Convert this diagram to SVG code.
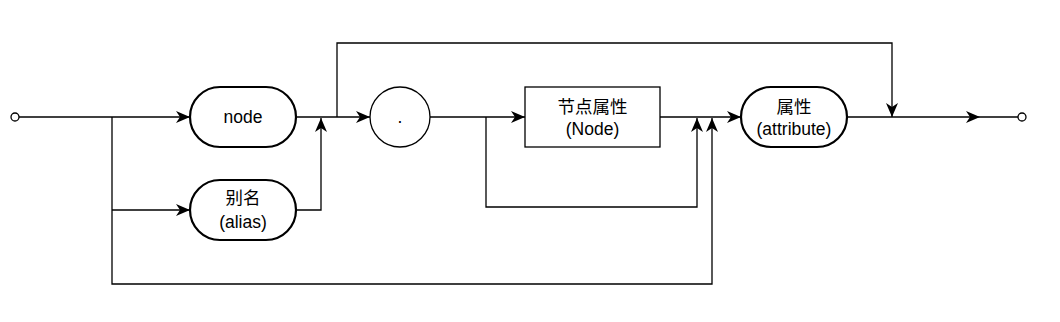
<svg xmlns="http://www.w3.org/2000/svg" width="1060" height="322" viewBox="0 0 1060 322">
<style>
.c{fill:none;stroke:#000;stroke-width:1.3}
.pill{fill:#fff;stroke:#000;stroke-width:2.2}
.box{fill:#fff;stroke:#000;stroke-width:1.3}
.t{font-family:"Liberation Sans","Noto Sans CJK SC",sans-serif;font-size:17.5px;fill:#000;text-anchor:middle}
.end{fill:#fff;stroke:#000;stroke-width:1.3}
</style>
<defs>
<marker id="a" markerUnits="userSpaceOnUse" viewBox="0 0 14 12" refX="14" refY="6" markerWidth="14" markerHeight="12" orient="auto">
<path d="M0,0 L14,6 L0,12 L4,6 Z" fill="#000"/>
</marker>
</defs>
<rect width="1060" height="322" fill="#fff"/>
<g id="connectors">
<path class="c" d="M19,117 H190" marker-end="url(#a)"/>
<path class="c" d="M112,117 V284 H712 V118" marker-end="url(#a)"/>
<path class="c" d="M112,210 H190" marker-end="url(#a)"/>
<path class="c" d="M296,210 H321 V118" marker-end="url(#a)"/>
<path class="c" d="M296,117 H370" marker-end="url(#a)"/>
<path class="c" d="M337,117 V43 H892 V117" marker-end="url(#a)"/>
<path class="c" d="M430,117 H525" marker-end="url(#a)"/>
<path class="c" d="M486,117 V207 H697 V118" marker-end="url(#a)"/>
<path class="c" d="M660,117 H741" marker-end="url(#a)"/>
<path class="c" d="M847,117 H980" marker-end="url(#a)"/>
<path class="c" d="M980,117 H1018"/>
</g>
<g id="start"><circle class="end" cx="15" cy="117" r="4"/></g>
<g id="finish"><circle class="end" cx="1022" cy="117" r="4"/></g>
<g id="node-node">
<rect class="pill" x="190" y="87" width="106" height="60" rx="30" ry="30"/>
<text class="t" x="243" y="123">node</text>
</g>
<g id="node-alias">
<rect class="pill" x="190" y="180" width="106" height="60" rx="30" ry="30"/>
<text class="t" x="243" y="204">别名</text>
<text class="t" x="243" y="228">(alias)</text>
</g>
<g id="node-dot">
<circle class="box" cx="400" cy="117" r="30"/>
<text class="t" x="400" y="123">.</text>
</g>
<g id="node-nodeattr">
<rect class="box" x="525" y="87" width="135" height="60"/>
<text class="t" x="592.5" y="113">节点属性</text>
<text class="t" x="592.5" y="135">(Node)</text>
</g>
<g id="node-attribute">
<rect class="pill" x="741" y="87" width="106" height="60" rx="30" ry="30"/>
<text class="t" x="794" y="113">属性</text>
<text class="t" x="794" y="135">(attribute)</text>
</g>
</svg>
